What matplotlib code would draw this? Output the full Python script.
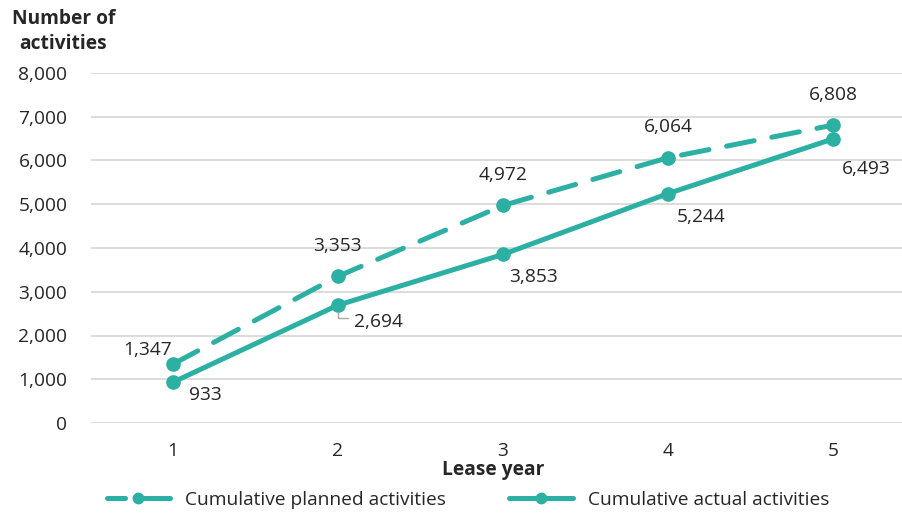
import matplotlib
matplotlib.use("Agg")
import matplotlib.pyplot as plt
from matplotlib.lines import Line2D
from matplotlib.ticker import FuncFormatter

plt.rcParams['font.family'] = ['Open Sans', 'DejaVu Sans']

years = [1, 2, 3, 4, 5]
planned = [1347, 3353, 4972, 6064, 6808]
actual = [933, 2694, 3853, 5244, 6493]
yticks = [0, 1000, 2000, 3000, 4000, 5000, 6000, 7000, 8000]
series_names = ['Cumulative planned activities', 'Cumulative actual activities']

teal = '#2BB0A3'
text_col = '#262626'
fs = 13.8

W, H = 903, 517
fig = plt.figure(figsize=(W / 100, H / 100), dpi=100)
ax = fig.add_axes([91 / W, 94 / H, (W - 91) / W, 350 / H])

ax.plot(years, planned, color=teal, lw=3.6, ls=(0, (5.6, 3.6)), marker='o',
        ms=9.5, dash_capstyle='round')
ax.plot(years, actual, color=teal, lw=3.6, marker='o', ms=9.5,
        solid_capstyle='round')

ax.set_xlim(1 - 82 / 165, 5 + 70 / 165)
ax.set_ylim(0, 8000)
ax.set_xticks(years)
ax.set_yticks(yticks)
ax.yaxis.set_major_formatter(FuncFormatter(lambda v, p: f'{int(v):,}'))
ax.grid(axis='y', color='#D9D9D9', lw=1.3)
ax.set_axisbelow(True)
for s in ax.spines.values():
    s.set_visible(False)
ax.tick_params(length=0, labelsize=fs, labelcolor=text_col)
ax.tick_params(axis='y', pad=17)
ax.tick_params(axis='x', pad=14)

# planned values: above the markers (first one up-left)
for i, (x, v) in enumerate(zip(years, planned)):
    off = (-18, 10) if i == 0 else (0, 22)
    ax.annotate(f'{v:,}', (x, v), xytext=off, textcoords='offset points',
                ha='center', va='center', fontsize=fs, color=text_col)

# actual values: below-right of the markers
act_off = [(23, -9.5), (29, -12), (22, -16), (24, -17), (24, -21.5)]
for (x, v), off in zip(zip(years, actual), act_off):
    ax.annotate(f'{v:,}', (x, v), xytext=off, textcoords='offset points',
                ha='center', va='center', fontsize=fs, color=text_col)

# leader line for the year-2 actual label
ax.annotate('', (2, actual[1]), xytext=(7, -9.5), textcoords='offset points',
            arrowprops=dict(arrowstyle='-', color='#A6A6A6', lw=1,
                            connectionstyle='angle,angleA=0,angleB=90,rad=0',
                            shrinkA=0, shrinkB=5))

fig.text(63.5 / W, 1 - 9 / H, 'Number of\nactivities', ha='center', va='top',
         multialignment='center', fontsize=fs, fontweight='bold',
         color=text_col, linespacing=1.3)
fig.text(493 / W, 1 - 470 / H, 'Lease year', ha='center', va='center',
         fontsize=fs, fontweight='bold', color=text_col)

handles = [
    Line2D([], [], color=teal, lw=3.6, ls=(0, (3.6, 2.4, 20, 0)),
           dash_capstyle='round', marker='o', ms=7.5),
    Line2D([], [], color=teal, lw=3.6, solid_capstyle='round',
           marker='o', ms=7.5),
]
leg = fig.legend(handles, series_names, loc='center',
                 bbox_to_anchor=(468 / W, 1 - 500 / H), ncol=2,
                 frameon=False, fontsize=fs, handlelength=3.3,
                 columnspacing=3.3, handletextpad=0.8)
for t in leg.get_texts():
    t.set_color(text_col)

fig.savefig('out.png', dpi=100)
